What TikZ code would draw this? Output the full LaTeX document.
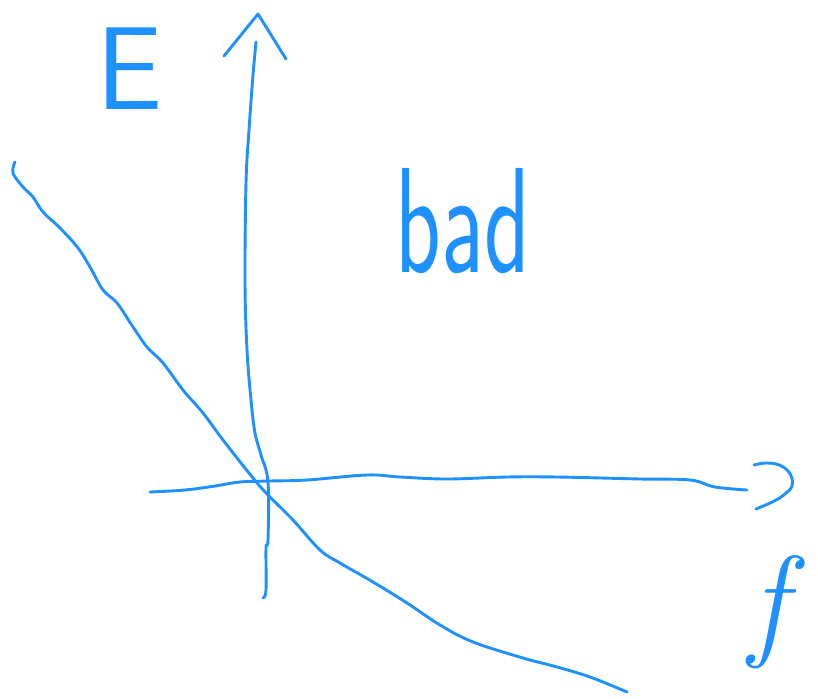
\documentclass[tikz,border=0pt]{standalone}
\definecolor{pen}{RGB}{30,144,255}
\begin{document}
\begin{tikzpicture}[x=1pt,y=-1pt, line join=round, line cap=round]
	\tikzset{stroke/.style={pen, line width=2.9pt},
		label style/.style={text=pen, inner sep=0pt, font=\sffamily}}
	\useasboundingbox (0,0) rectangle (818,698);
	% vertical axis with its hand-drawn tip
	\draw[stroke] plot[smooth, tension=.6] coordinates {(256,42) (253,75) (249,130) (246,183) (245,283) (247,350) (251,400) (255,433) (261,455) (268,482) (268,540) (266,548) (266,590) (263,598)};
	\draw[stroke] (224,56) -- (258,14) -- (286,59);
	% horizontal axis with its hand-drawn tip
	\draw[stroke] plot[smooth, tension=.6] coordinates {(150,492) (185,490) (215,486) (240,482) (270,481) (307,480) (367,475) (400,477) (447,479) (507,477) (557,477) (640,479) (690,480) (715,487) (747,490)};
	\draw[stroke] (754,465) .. controls (790,455) and (800,485) .. (787,492) .. controls (780,500) and (765,505) .. (756,509);
	% the falling curve
	\draw[stroke] plot[smooth, tension=.6] coordinates {(15,162) (13,173) (23,187) (33,197) (43,212) (60,228) (78,248) (90,267) (103,290) (117,303) (133,327) (147,347) (163,363) (183,390) (203,413) (223,440) (253,478) (268,495) (293,520) (320,550) (340,563) (373,582) (407,603) (440,625) (473,642) (523,658) (557,667) (590,677) (627,692)};
	% labels
	\node[label style, font=\sffamily\fontsize{118}{118}\selectfont, anchor=base west] (eLabel) at (96,110) {E};
	\node[label style, font=\sffamily\fontsize{150}{150}\selectfont, xscale=.63, anchor=base] (badLabel) at (463,272) {bad};
	\node[label style, font=\rmfamily\itshape\fontsize{125}{125}\selectfont] (fLabel) at (768,612) {f};
\end{tikzpicture}
\end{document}
